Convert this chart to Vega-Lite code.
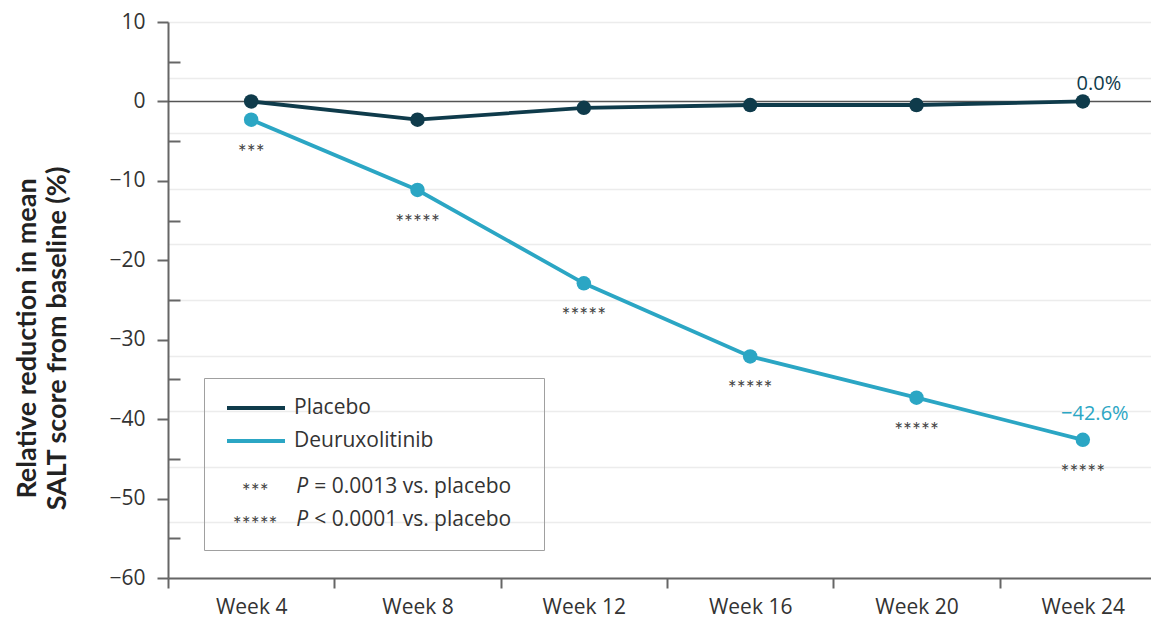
{
  "$schema": "https://vega.github.io/schema/vega-lite/v6.json",
  "autosize": {"type": "none"},
  "width": 983,
  "height": 556,
  "padding": {"left": 168, "top": 22, "right": 0, "bottom": 40},
  "background": "white",
  "config": {
    "view": {"stroke": null},
    "font": "Open Sans",
    "axis": {"labelFont": "Open Sans", "titleFont": "Lato", "labelColor": "#333", "domainColor": "#666", "tickColor": "#666", "domainWidth": 2, "tickWidth": 2}
  },
  "datasets": {
    "series": [
      {"week": "Week 4", "series": "Placebo", "value": 0.0},
      {"week": "Week 8", "series": "Placebo", "value": -2.3},
      {"week": "Week 12", "series": "Placebo", "value": -0.8},
      {"week": "Week 16", "series": "Placebo", "value": -0.45},
      {"week": "Week 20", "series": "Placebo", "value": -0.45},
      {"week": "Week 24", "series": "Placebo", "value": 0.0, "label": "0.0%"},
      {"week": "Week 4", "series": "Deuruxolitinib", "value": -2.3, "sig": "***"},
      {"week": "Week 8", "series": "Deuruxolitinib", "value": -11.15, "sig": "*****"},
      {"week": "Week 12", "series": "Deuruxolitinib", "value": -22.9, "sig": "*****"},
      {"week": "Week 16", "series": "Deuruxolitinib", "value": -32.1, "sig": "*****"},
      {"week": "Week 20", "series": "Deuruxolitinib", "value": -37.3, "sig": "*****"},
      {"week": "Week 24", "series": "Deuruxolitinib", "value": -42.6, "sig": "*****", "label": "\u221242.6%"}
    ],
    "notes": [
      {"week": "Week 4", "y": -48.6, "star": "***", "p": "P", "rest": "= 0.0013 vs. placebo"},
      {"week": "Week 4", "y": -52.7, "star": "*****", "p": "P", "rest": "< 0.0001 vs. placebo"}
    ]
  },
  "resolve": {"axis": {"y": "independent"}},
  "layer": [
    {
      "data": {"values": [{"zero": 0}]},
      "mark": {"type": "rule", "color": "#555", "strokeWidth": 1.5},
      "encoding": {
        "y": {"field": "zero", "type": "quantitative", "scale": {"domain": [-60, 10], "nice": false, "zero": false},
          "axis": {"orient": "right", "grid": true, "gridColor": "#ececec", "gridWidth": 1.5, "values": [10, 3, -4, -11, -18, -25, -32, -39, -46, -53, -60], "ticks": false, "labels": false, "domain": false, "title": null}}
      }
    },
    {
      "data": {"name": "series"},
      "mark": {"type": "line", "strokeWidth": 3.8},
      "encoding": {
        "x": {"field": "week", "type": "nominal", "sort": ["Week 4", "Week 8", "Week 12", "Week 16", "Week 20", "Week 24"],
          "scale": {"type": "band", "range": [0, 998], "paddingInner": 0, "paddingOuter": 0},
          "axis": {"title": null, "tickBand": "extent", "labelAngle": 0, "labelFontSize": 21, "tickSize": 10, "labelPadding": 8, "grid": false}},
        "y": {"field": "value", "type": "quantitative",
          "axis": {"orient": "left", "values": [-60, -50, -40, -30, -20, -10, 0, 10], "tickSize": 11, "labelPadding": 12, "labelFontSize": 21, "grid": false,
            "title": ["Relative reduction in mean", "SALT score from baseline (%)"], "titleFontSize": 27, "titleFontWeight": "bold", "titleColor": "#222", "titlePadding": 37, "titleLineHeight": 30, "titleY": 316}},
        "color": {"field": "series", "type": "nominal",
          "scale": {"domain": ["Placebo", "Deuruxolitinib"], "range": ["#0f3b4b", "#2ba6c4"]},
          "legend": {
            "orient": "none", "legendX": 36, "legendY": 356,
            "title": ["\u2800\u2800\u2800\u2800\u2800\u2800\u2800\u2800\u2800\u2800\u2800\u2800\u2800\u2800\u2800\u2800\u2800\u2800\u2800\u2800\u2800\u2800\u2800\u2800\u2800\u2800\u2800\u2800\u2800\u2800\u2800\u2800\u2800\u2800\u2800\u2800\u2800\u2800\u2800\u2800\u2800\u2800\u2800\u2800\u2800\u2800\u2800\u2800\u2800\u2800\u2800\u2800\u2800\u2800\u2800\u2800\u2800\u2800\u2800\u2800\u2800\u2800\u2800\u2800\u2800\u2800\u2800\u2800\u2800\u2800\u2800\u2800\u2800\u2800\u2800\u2800\u2800\u2800\u2800\u2800\u2800\u2800\u2800\u2800\u2800\u2800\u2800\u2800\u2800\u2800\u2800\u2800\u2800\u2800\u2800\u2800\u2800\u2800\u2800\u2800\u2800\u2800\u2800\u2800\u2800\u2800\u2800\u2800\u2800\u2800\u2800\u2800\u2800\u2800\u2800\u2800\u2800\u2800\u2800\u2800\u2800\u2800\u2800\u2800\u2800\u2800\u2800\u2800\u2800\u2800\u2800\u2800\u2800\u2800\u2800\u2800\u2800\u2800", "\u00a0"],
            "titleOrient": "bottom", "titleFont": "DejaVu Sans", "titleColor": "transparent", "titleFontSize": 3, "titleFontWeight": "normal", "titleLineHeight": 27, "titlePadding": 51, "titleLimit": 600,
            "strokeColor": "#a0a0a0", "padding": 18,
            "symbolType": "M-2.9,0H2.9", "symbolSize": 400, "symbolStrokeWidth": 4, "symbolOffset": 22,
            "labelOffset": 26, "labelFont": "Open Sans", "labelFontSize": 21, "labelColor": "#333", "rowPadding": 11
          }
        }
      }
    },
    {
      "data": {"name": "series"},
      "mark": {"type": "point", "filled": true, "size": 210, "opacity": 1},
      "encoding": {
        "x": {"field": "week", "type": "nominal", "sort": ["Week 4", "Week 8", "Week 12", "Week 16", "Week 20", "Week 24"]},
        "y": {"field": "value", "type": "quantitative",
          "axis": {"orient": "right", "offset": -983, "values": [-55, -45, -35, -25, -15, -5, 5], "tickSize": 12, "labels": false, "domain": false, "grid": false, "title": null}},
        "color": {"field": "series", "type": "nominal", "legend": null}
      }
    },
    {
      "data": {"name": "series"},
      "transform": [{"filter": "isValid(datum.sig)"}],
      "mark": {"type": "text", "font": "Lato", "fontSize": 21, "color": "#444", "baseline": "middle", "dy": 34},
      "encoding": {
        "x": {"field": "week", "type": "nominal", "sort": ["Week 4", "Week 8", "Week 12", "Week 16", "Week 20", "Week 24"]},
        "y": {"field": "value", "type": "quantitative", "axis": null},
        "text": {"field": "sig"}
      }
    },
    {
      "data": {"name": "series"},
      "transform": [{"filter": "datum.series == 'Placebo' && isValid(datum.label)"}],
      "mark": {"type": "text", "fontSize": 20, "baseline": "middle", "dx": 16, "dy": -17},
      "encoding": {
        "x": {"field": "week", "type": "nominal", "sort": ["Week 4", "Week 8", "Week 12", "Week 16", "Week 20", "Week 24"]},
        "y": {"field": "value", "type": "quantitative", "axis": null},
        "text": {"field": "label"},
        "color": {"field": "series", "type": "nominal", "legend": null}
      }
    },
    {
      "data": {"name": "series"},
      "transform": [{"filter": "datum.series == 'Deuruxolitinib' && isValid(datum.label)"}],
      "mark": {"type": "text", "fontSize": 20, "baseline": "middle", "dx": 12, "dy": -26},
      "encoding": {
        "x": {"field": "week", "type": "nominal", "sort": ["Week 4", "Week 8", "Week 12", "Week 16", "Week 20", "Week 24"]},
        "y": {"field": "value", "type": "quantitative", "axis": null},
        "text": {"field": "label"},
        "color": {"field": "series", "type": "nominal", "legend": null}
      }
    },
    {
      "data": {"name": "notes"},
      "mark": {"type": "text", "font": "Lato", "fontSize": 21, "color": "#444", "baseline": "middle", "dx": 4, "dy": 6},
      "encoding": {
        "x": {"field": "week", "type": "nominal", "sort": ["Week 4", "Week 8", "Week 12", "Week 16", "Week 20", "Week 24"]},
        "y": {"field": "y", "type": "quantitative", "axis": null},
        "text": {"field": "star"}
      }
    },
    {
      "data": {"name": "notes"},
      "mark": {"type": "text", "fontSize": 21, "fontStyle": "italic", "color": "#333", "baseline": "middle", "align": "left", "dx": 45},
      "encoding": {
        "x": {"field": "week", "type": "nominal", "sort": ["Week 4", "Week 8", "Week 12", "Week 16", "Week 20", "Week 24"]},
        "y": {"field": "y", "type": "quantitative", "axis": null},
        "text": {"field": "p"}
      }
    },
    {
      "data": {"name": "notes"},
      "mark": {"type": "text", "fontSize": 21, "color": "#333", "baseline": "middle", "align": "left", "dx": 63},
      "encoding": {
        "x": {"field": "week", "type": "nominal", "sort": ["Week 4", "Week 8", "Week 12", "Week 16", "Week 20", "Week 24"]},
        "y": {"field": "y", "type": "quantitative", "axis": null},
        "text": {"field": "rest"}
      }
    }
  ]
}
